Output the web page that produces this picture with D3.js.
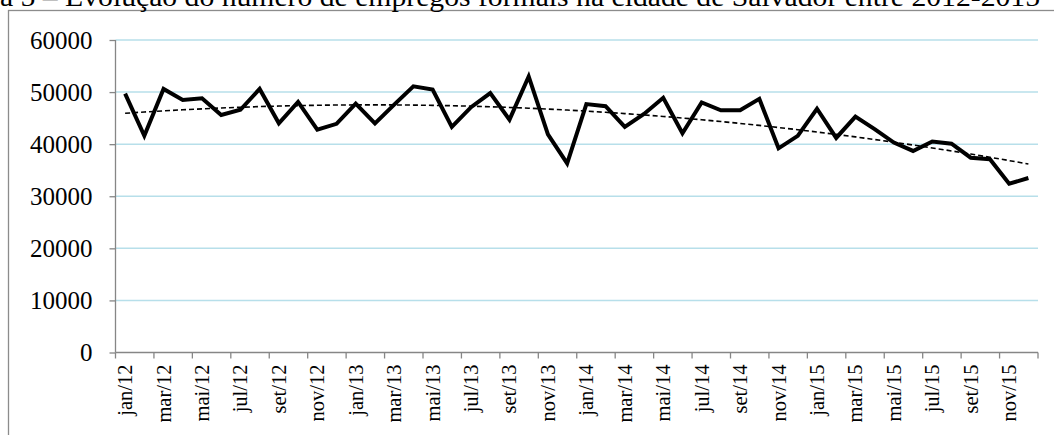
<!DOCTYPE html>
<html>
<head>
<meta charset="utf-8">
<script src="https://cdn.jsdelivr.net/npm/d3@7"></script>
<style>
  body { margin: 0; background: #fff; }
  svg { display: block; font-family: "Liberation Serif", "Times New Roman", serif; }
</style>
</head>
<body>
<div class="chart"></div>
<script>
var svgWidth = 1054;
var svgHeight = 435;

// month labels, jan/12 .. dez/15
var months = ["jan", "fev", "mar", "abr", "mai", "jun", "jul", "ago", "set", "out", "nov", "dez"];
var years = ["12", "13", "14", "15"];
var categories = [];
years.forEach(function(y) {
  months.forEach(function(m) { categories.push(m + "/" + y); });
});

// formal jobs per month
var empregos = [
  49700, 41600, 50600, 48500, 48800, 45600, 46600, 50600, 44000, 48100, 42800, 43900,
  47800, 44000, 47600, 51100, 50500, 43300, 47100, 49800, 44700, 53000, 41900, 36300,
  47700, 47300, 43300, 45800, 48900, 42100, 48000, 46500, 46500, 48700, 39200, 41600,
  46800, 41200, 45300, 42900, 40300, 38700, 40500, 40100, 37400, 37100, 32400, 33500
];

var yTicks = [0, 10000, 20000, 30000, 40000, 50000, 60000];

var titleText = "a 5 – Evolução do número de empregos formais na cidade de Salvador entre 2012-2015";

var margin = { top: 40, left: 115.5, right: 16, bottom: 82.5 };
var chartWidth = svgWidth - margin.left - margin.right;
var chartHeight = svgHeight - margin.top - margin.bottom;

var svg = d3.select(".chart")
  .append("svg")
  .attr("width", svgWidth)
  .attr("height", svgHeight);

// outer frame of the chart object (clipped by the page on the right/bottom)
svg.append("rect")
  .attr("x", 8.5)
  .attr("y", 10.5)
  .attr("width", 1200)
  .attr("height", 600)
  .attr("fill", "none")
  .attr("stroke", "#8c8c8c")
  .attr("stroke-width", 1.3);

// title, cut by the top of the page as in the original
svg.append("text")
  .attr("x", 0)
  .attr("y", 6)
  .attr("font-size", 27)
  .attr("textLength", 1040)
  .attr("lengthAdjust", "spacingAndGlyphs")
  .attr("fill", "#000")
  .text(titleText);

var chartGroup = svg.append("g")
  .attr("transform", `translate(${margin.left}, ${margin.top})`);

var xBand = d3.scaleBand()
  .domain(categories)
  .range([0, chartWidth]);

var yLinearScale = d3.scaleLinear()
  .domain([0, 60000])
  .range([chartHeight, 0]);

// gridlines
chartGroup.selectAll(".grid")
  .data(yTicks.filter(d => d > 0))
  .enter()
  .append("line")
  .attr("x1", 0)
  .attr("x2", chartWidth)
  .attr("y1", d => yLinearScale(d))
  .attr("y2", d => yLinearScale(d))
  .attr("stroke", "#b7dfea")
  .attr("stroke-width", 1.5);

// y axis
var leftAxis = d3.axisLeft(yLinearScale)
  .tickValues(yTicks)
  .tickSize(6)
  .tickPadding(17)
  .tickFormat(d3.format("d"));

var yAxis = chartGroup.append("g").call(leftAxis);
yAxis.select(".domain").remove();
yAxis.selectAll(".tick line").attr("stroke", "#868686").attr("stroke-width", 1.3);
yAxis.selectAll("text")
  .attr("font-family", "Liberation Serif")
  .attr("font-size", 25)
  .attr("fill", "#000");

chartGroup.append("line")
  .attr("x1", 0).attr("x2", 0)
  .attr("y1", 0).attr("y2", chartHeight)
  .attr("stroke", "#868686")
  .attr("stroke-width", 1.3);

// x axis: ticks between every second month, labels on odd months
var boundaries = d3.range(0, categories.length + 1, 2);
var xAxis = chartGroup.append("g")
  .attr("transform", `translate(0, ${chartHeight})`);

xAxis.append("line")
  .attr("x1", 0).attr("x2", chartWidth)
  .attr("y1", 0).attr("y2", 0)
  .attr("stroke", "#868686")
  .attr("stroke-width", 1.3);

xAxis.selectAll(".xtick")
  .data(boundaries)
  .enter()
  .append("line")
  .attr("x1", d => d * xBand.step())
  .attr("x2", d => d * xBand.step())
  .attr("y1", 0)
  .attr("y2", 6)
  .attr("stroke", "#868686")
  .attr("stroke-width", 1.3);

xAxis.selectAll(".xlabel")
  .data(categories.filter((d, i) => i % 2 === 0))
  .enter()
  .append("text")
  .attr("transform", d => `translate(${xBand(d) + xBand.bandwidth() / 2 + 7}, 12) rotate(-90)`)
  .attr("text-anchor", "end")
  .attr("font-size", 20.5)
  .attr("fill", "#000")
  .text(d => d);

// data line
var line = d3.line()
  .x((d, i) => xBand(categories[i]) + xBand.bandwidth() / 2)
  .y(d => yLinearScale(d));

chartGroup.append("path")
  .datum(empregos)
  .attr("d", line)
  .attr("fill", "none")
  .attr("stroke", "#000")
  .attr("stroke-width", 4)
  .attr("stroke-linejoin", "miter");

// polynomial (order 2) trendline fitted to the data, like the spreadsheet's
function polyFit2(ys) {
  var n = ys.length;
  var s = [0, 0, 0, 0, 0], t = [0, 0, 0];
  ys.forEach(function(y, i) {
    var x = i + 1;
    for (var k = 0; k < 5; k++) s[k] += Math.pow(x, k);
    for (var k = 0; k < 3; k++) t[k] += y * Math.pow(x, k);
  });
  var A = [[s[0], s[1], s[2], t[0]], [s[1], s[2], s[3], t[1]], [s[2], s[3], s[4], t[2]]];
  for (var c = 0; c < 3; c++) {
    for (var r = c + 1; r < 3; r++) {
      var f = A[r][c] / A[c][c];
      for (var k = c; k < 4; k++) A[r][k] -= f * A[c][k];
    }
  }
  var b = [0, 0, 0];
  for (var r = 2; r >= 0; r--) {
    var v = A[r][3];
    for (var k = r + 1; k < 3; k++) v -= A[r][k] * b[k];
    b[r] = v / A[r][r];
  }
  return ys.map((y, i) => b[0] + b[1] * (i + 1) + b[2] * (i + 1) * (i + 1));
}

var trend = polyFit2(empregos);

chartGroup.append("path")
  .datum(trend)
  .attr("d", line)
  .attr("fill", "none")
  .attr("stroke", "#000")
  .attr("stroke-width", 1.6)
  .attr("stroke-dasharray", "5,3");
</script>
</body>
</html>
